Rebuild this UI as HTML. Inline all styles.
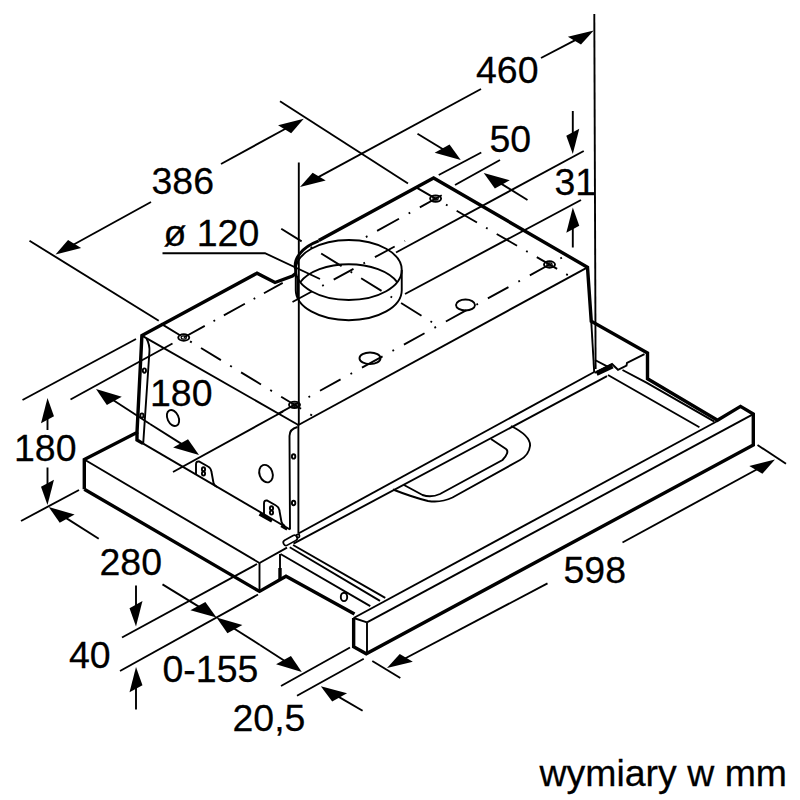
<!DOCTYPE html>
<html><head><meta charset="utf-8"><title>wymiary</title>
<style>html,body{margin:0;padding:0;background:#fff}svg{display:block}
text{font-family:"Liberation Sans",sans-serif;fill:#000;stroke:#000;stroke-width:0.25}</style></head>
<body><svg width="800" height="800" viewBox="0 0 800 800" fill="none" stroke="#000" stroke-linecap="butt" stroke-linejoin="miter">
<rect width="800" height="800" fill="#fff" stroke="none"/>
<path d="M84.30,489.20 L84.30,459.50 L137.00,432.40 L141.90,335.60 L257.00,273.25 L275.00,282.50 L292.50,276.00 L295.60,273.50" stroke-width="3.4" />
<path d="M295.75,276 L295.75,270 A53,30 0 0 1 318.75,240.9" stroke-width="3.0" />
<path d="M318.75,240.60 L433.60,178.00 L587.50,267.30 L591.25,321.25 L647.50,353.00 L647.50,378.75 L717.50,420.30 L740.50,406.40 L753.30,414.00 L753.30,445.00 L366.25,653.75 L353.65,646.75 L353.65,618.00" stroke-width="3.4" />
<path d="M84.30,489.20 L259.50,591.40 L286.00,576.20 L354.50,614.00" stroke-width="3.4" />
<path d="M280.00,580.00 L280.00,568.00" stroke-width="3.4" />
<path d="M280.00,568.00 L280.00,554.00" stroke-width="1.9" />
<path d="M141.90,335.60 L298.40,425.00" stroke-width="1.9" />
<path d="M298.40,425.00 L587.50,267.30" stroke-width="1.9" />
<path d="M298.40,425.00 L298.40,533.50" stroke-width="1.9" />
<path d="M298.40,533.50 L594.20,372.00" stroke-width="1.9" />
<path d="M591.25,321.25 L594.20,372.00" stroke-width="1.9" />
<path d="M146.5,338.5 Q150,345 149.4,352 L143.2,443.6" stroke-width="1.9" />
<path d="M143.20,443.60 L290.00,529.50" stroke-width="1.9" />
<path d="M137.00,432.40 L137.00,440.00 L143.20,443.60" stroke-width="3.4" />
<ellipse cx="144.4" cy="370.6" rx="1.6" ry="2.2" stroke-width="1.9" />
<ellipse cx="141.9" cy="415.6" rx="1.6" ry="2.2" stroke-width="1.9" />
<path d="M297.5,427 Q289.5,429 289.5,436 L290,529.5" stroke-width="1.9" />
<ellipse cx="293.6" cy="456.4" rx="1.7" ry="2.2" stroke-width="1.9" />
<ellipse cx="293.6" cy="503" rx="1.7" ry="2.2" stroke-width="1.9" />
<ellipse cx="173" cy="418" rx="5.5" ry="8.5" stroke-width="1.9" transform="rotate(-25 173 418)" />
<ellipse cx="266" cy="473.6" rx="6.5" ry="9" stroke-width="1.9" transform="rotate(-20 266 473.6)" />
<path d="M196,475 L196,464.5 Q196,461 199,461.5 L208,466.5 Q211,468 211.5,472 L213.5,483 Q214,485.5 217,487" stroke-width="1.9" />
<ellipse cx="203.5" cy="469.3" rx="1.6" ry="2.0" stroke-width="1.9" />
<ellipse cx="203.5" cy="473.6" rx="1.6" ry="2.0" stroke-width="1.9" />
<path d="M264,514 L264,503.5 Q264,500 267,500.5 L276,505.5 Q279,507 279.5,511 L281.5,522 Q282,524.5 285,526" stroke-width="1.9" />
<path d="M259.50,514.00 L272.00,521.00" stroke-width="3.4" />
<path d="M281.00,526.00 L287.00,529.50" stroke-width="2.4" />
<ellipse cx="271.5" cy="508.3" rx="1.6" ry="2.0" stroke-width="1.9" />
<ellipse cx="271.5" cy="512.6" rx="1.6" ry="2.0" stroke-width="1.9" />
<path d="M84.30,459.50 L259.50,563.00" stroke-width="1.9" />
<path d="M259.50,563.00 L259.50,591.40" stroke-width="1.9" />
<path d="M259.50,563.00 L287.00,547.60" stroke-width="1.9" />
<path d="M293.50,543.60 L607.00,376.20" stroke-width="1.9" />
<rect x="-7.5" y="-2.8" width="15" height="5.6" rx="2.6" transform="translate(290.3,540.3) rotate(-29)" stroke-width="1.7"/>
<ellipse cx="298" cy="536" rx="1.6" ry="1.6" stroke-width="1.6" />
<ellipse cx="348.75" cy="270" rx="53" ry="30" stroke-width="1.9" />
<path d="M295.75,270 L295.75,290.2 A53,30 0 0 0 401.75,290.2 L401.75,270" stroke-width="1.9" />
<path d="M297.55,276 L297.55,297" stroke-width="1.9" />
<path d="M299.99,282.5 A53,30 0 0 1 397.51,282.5" stroke-width="1.9" />
<path d="M160.93,323.63 L312.37,415.66" stroke-width="1.9" stroke-dasharray="23.3 10.8 2 10.8"/>
<path d="M183.75,337.50 L282.70,282.93" stroke-width="1.9" stroke-dasharray="24 10 1.8 10"/>
<path d="M365.89,237.05 L442.07,195.03" stroke-width="1.9" stroke-dasharray="1.8 11 25 11"/>
<path d="M416.56,187.58 L568.03,275.22" stroke-width="1.9" stroke-dasharray="23.5 10.5 1.8 10.5"/>
<path d="M278.03,413.86 L566.98,254.88" stroke-width="1.9" stroke-dasharray="23.5 11.3 1.8 11.3"/>
<path d="M292.50,302.00 L404.96,240.88" stroke-width="1.9" stroke-dasharray="22.5 11.3 1.8 11.3"/>
<path d="M281.25,228.75 L432.11,322.28" stroke-width="1.9" stroke-dasharray="24 10.6 1.8 10.6"/>
<ellipse cx="183.75" cy="337.5" rx="5.5" ry="3.2" stroke-width="1.9" />
<ellipse cx="183.75" cy="337.5" rx="2.6" ry="1.6" stroke-width="1.2" />
<ellipse cx="294.5" cy="404.8" rx="5.5" ry="3.2" stroke-width="1.9" />
<ellipse cx="294.5" cy="404.8" rx="2.6" ry="1.6" stroke-width="1.2" />
<ellipse cx="549.5" cy="264.5" rx="5.5" ry="3.2" stroke-width="1.9" />
<ellipse cx="549.5" cy="264.5" rx="2.6" ry="1.6" stroke-width="1.2" />
<ellipse cx="435.6" cy="198.6" rx="5.5" ry="3.2" stroke-width="1.9" />
<ellipse cx="435.6" cy="198.6" rx="2.6" ry="1.6" stroke-width="1.2" />
<ellipse cx="370" cy="358.3" rx="10.5" ry="5.8" stroke-width="1.9" />
<ellipse cx="465.5" cy="305" rx="9.5" ry="5.5" stroke-width="1.9" />
<path d="M293.10,545.00 L385.25,597.90" stroke-width="1.9" />
<path d="M289.75,547.25 L380.00,600.90" stroke-width="1.9" />
<path d="M280.50,554.00 L370.25,606.10" stroke-width="1.9" />
<path d="M353.65,618.00 L367.00,622.40" stroke-width="1.9" />
<path d="M367.00,622.40 L367.00,653.00" stroke-width="1.9" />
<path d="M353.65,618.00 L717.50,421.00" stroke-width="1.9" />
<path d="M367.00,622.40 L753.30,414.20" stroke-width="1.9" />
<path d="M644.50,354.20 L627.00,363.00 L626.50,365.60 L618.00,369.80 L612.00,364.00 L594.50,373.00" stroke-width="1.9" />
<path d="M595.00,360.00 L609.00,367.30" stroke-width="1.9" />
<path d="M622.50,370.00 L646.90,382.90 L714.40,421.60" stroke-width="1.9" />
<path d="M608.00,375.00 L699.40,427.20" stroke-width="1.9" />
<path d="M596.50,373.60 L612.50,366.00" stroke-width="5.0" />
<path d="M511,426 Q531,436 530,446 Q529,455 520,460 L452.5,497.5 Q441,503 428,501 Q412,497 393,489.5" stroke-width="1.9" />
<path d="M491,439 L506,449 Q510,452 502.5,460 L440,494 Q431,498 422.5,495 L404,485" stroke-width="1.9" />
<ellipse cx="344" cy="596.9" rx="3.2" ry="4.2" stroke-width="1.9" />
<path d="M594.30,14.00 L595.60,369.00" stroke-width="1.9" />
<path d="M298.80,162.50 L298.80,425.00" stroke-width="1.9" />
<path d="M541.00,58.00 L576.19,39.65" stroke-width="1.9"/>
<polygon points="593.75,30.50 580.98,44.51 567.86,36.64" fill="#000" stroke="none"/>
<path d="M481.00,89.00 L317.41,177.57" stroke-width="1.9"/>
<polygon points="300.00,187.00 325.73,180.56 312.61,172.68" fill="#000" stroke="none"/>
<path d="M280.00,101.20 L408.00,183.50" stroke-width="1.9" />
<path d="M29.50,240.75 L158.75,320.75" stroke-width="1.9" />
<path d="M221.00,164.00 L286.38,128.25" stroke-width="1.9"/>
<polygon points="303.75,118.75 291.18,133.15 278.06,125.27" fill="#000" stroke="none"/>
<path d="M151.00,202.00 L72.85,244.96" stroke-width="1.9"/>
<polygon points="55.50,254.50 81.16,247.93 68.04,240.06" fill="#000" stroke="none"/>
<path d="M417.50,133.75 L443.82,149.73" stroke-width="1.9"/>
<polygon points="460.75,160.00 449.56,144.59 434.67,152.79" fill="#000" stroke="none"/>
<path d="M527.50,200.00 L500.60,183.40" stroke-width="1.9"/>
<polygon points="483.75,173.00 509.75,180.35 494.85,188.55" fill="#000" stroke="none"/>
<path d="M438.75,175.00 L481.25,152.50" stroke-width="1.9" />
<path d="M455.00,185.00 L500.00,160.00" stroke-width="1.9" />
<path d="M572.80,111.00 L572.80,134.20" stroke-width="1.9"/>
<polygon points="572.80,154.00 579.28,128.63 566.32,135.77" fill="#000" stroke="none"/>
<path d="M572.80,247.50 L572.80,227.30" stroke-width="1.9"/>
<polygon points="572.80,207.50 579.28,225.73 566.32,232.87" fill="#000" stroke="none"/>
<path d="M583.75,151.00 L396.00,252.50" stroke-width="1.9" />
<path d="M581.00,200.00 L405.00,294.00" stroke-width="1.9" />
<path d="M162.50,253.20 L265.00,253.20 L320.00,279.00" stroke-width="1.9" />
<path d="M47.50,430.00 L47.50,417.80" stroke-width="1.9"/>
<polygon points="47.50,398.00 53.98,416.23 41.02,423.37" fill="#000" stroke="none"/>
<path d="M47.50,467.50 L47.50,485.20" stroke-width="1.9"/>
<polygon points="47.50,505.00 53.98,479.63 41.02,486.77" fill="#000" stroke="none"/>
<path d="M136.00,339.00 L22.50,400.00" stroke-width="1.9" />
<path d="M21.00,521.00 L79.00,490.00" stroke-width="1.9" />
<path d="M150.00,424.00 L112.62,399.77" stroke-width="1.9"/>
<polygon points="96.00,389.00 121.74,396.76 106.85,404.95" fill="#000" stroke="none"/>
<path d="M150.00,424.00 L182.27,444.41" stroke-width="1.9"/>
<polygon points="199.00,455.00 188.02,439.25 173.13,447.44" fill="#000" stroke="none"/>
<path d="M70.50,399.50 L172.50,343.50" stroke-width="1.9" />
<path d="M173.00,472.00 L283.00,411.50" stroke-width="1.9" />
<path d="M98.75,538.75 L65.46,517.61" stroke-width="1.9"/>
<polygon points="48.75,507.00 74.60,514.59 59.71,522.78" fill="#000" stroke="none"/>
<path d="M162.50,584.40 L199.61,607.08" stroke-width="1.9"/>
<polygon points="216.50,617.40 205.35,601.94 190.45,610.13" fill="#000" stroke="none"/>
<path d="M136.00,585.60 L136.00,606.60" stroke-width="1.9"/>
<polygon points="136.00,626.40 142.48,601.03 129.52,608.17" fill="#000" stroke="none"/>
<path d="M136.00,709.50 L136.00,686.80" stroke-width="1.9"/>
<polygon points="136.00,667.00 142.48,685.23 129.52,692.37" fill="#000" stroke="none"/>
<path d="M122.00,637.50 L257.00,564.00" stroke-width="1.9" />
<path d="M120.00,671.00 L258.00,594.50" stroke-width="1.9" />
<path d="M260.00,645.00 L233.22,628.01" stroke-width="1.9"/>
<polygon points="216.50,617.40 242.36,624.98 227.46,633.18" fill="#000" stroke="none"/>
<path d="M260.00,645.00 L285.17,661.26" stroke-width="1.9"/>
<polygon points="301.80,672.00 290.94,656.08 276.04,664.27" fill="#000" stroke="none"/>
<path d="M281.00,686.00 L350.00,647.50" stroke-width="1.9" />
<path d="M297.00,695.75 L363.75,658.75" stroke-width="1.9" />
<path d="M362.60,710.80 L337.88,696.31" stroke-width="1.9"/>
<polygon points="320.80,686.30 347.06,693.23 332.16,701.42" fill="#000" stroke="none"/>
<path d="M547.50,583.40 L404.52,658.77" stroke-width="1.9"/>
<polygon points="387.00,668.00 412.84,661.77 399.73,653.90" fill="#000" stroke="none"/>
<path d="M622.50,542.50 L757.61,468.97" stroke-width="1.9"/>
<polygon points="775.00,459.50 762.41,473.86 749.29,465.99" fill="#000" stroke="none"/>
<path d="M372.30,661.00 L400.30,678.00" stroke-width="1.9" />
<path d="M757.50,445.00 L786.00,463.75" stroke-width="1.9" />
<text transform="translate(476 83.0) scale(1.032 1)" font-size="36.3">460</text>
<text transform="translate(151.5 194.3) scale(1.032 1)" font-size="36.3">386</text>
<text transform="translate(489.5 151.5) scale(1.032 1)" font-size="36.3">50</text>
<text transform="translate(554.5 194.5) scale(1.032 1)" font-size="36.3">31</text>
<text transform="translate(163.5 245.5) scale(1.032 1)" font-size="36.3">ø 120</text>
<text transform="translate(150 405.8) scale(1.032 1)" font-size="36.3">180</text>
<text transform="translate(14 461.0) scale(1.032 1)" font-size="36.3">180</text>
<text transform="translate(99.5 575.0) scale(1.032 1)" font-size="36.3">280</text>
<text transform="translate(69 668.0) scale(1.032 1)" font-size="36.3">40</text>
<text transform="translate(162.5 682.0) scale(1.032 1)" font-size="36.3">0-155</text>
<text transform="translate(232.5 731.0) scale(1.032 1)" font-size="36.3">20,5</text>
<text transform="translate(563.5 583.0) scale(1.032 1)" font-size="36.3">598</text>
<text transform="translate(539.5 786.0) scale(1.032 1)" font-size="36.3">wymiary w mm</text>
</svg></body></html>
